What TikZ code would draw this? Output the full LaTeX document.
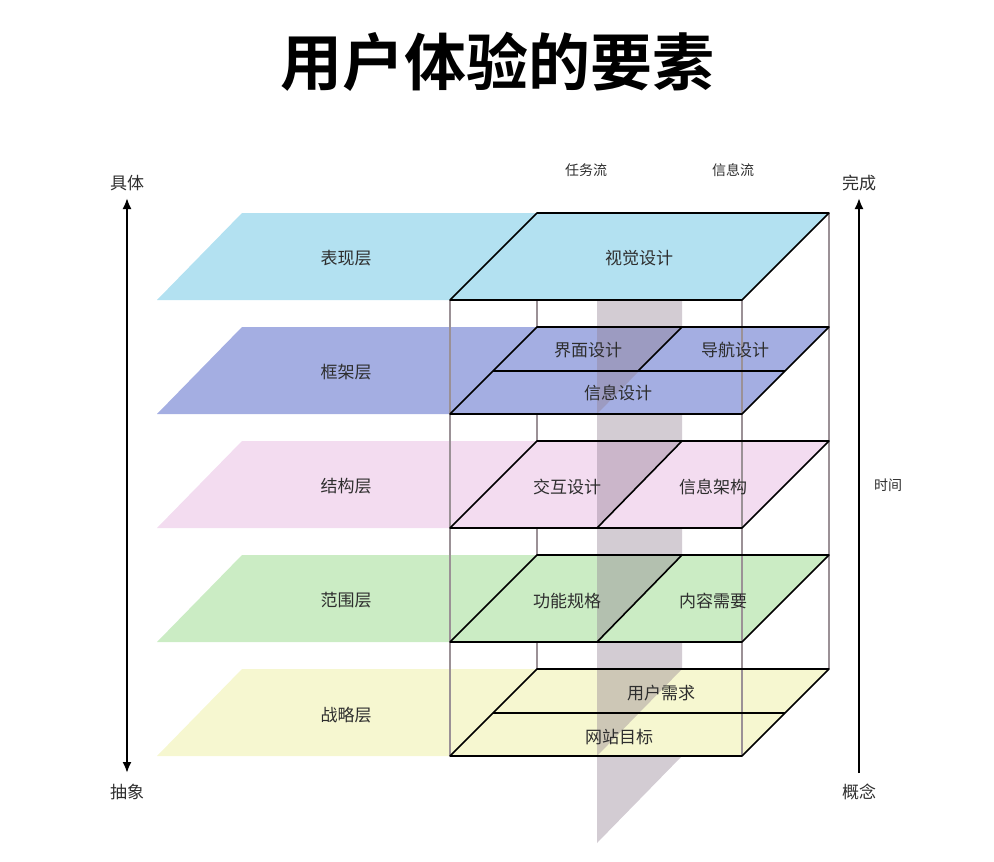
\documentclass[tikz,border=0pt]{standalone}
\usepackage{fontspec}
\setmainfont{Noto Sans CJK SC}[BoldFont={* Bold}]
\usepackage{xcolor}
\usetikzlibrary{arrows.meta}

\definecolor{surfBlue}{RGB}{179,225,241}
\definecolor{skelBlue}{RGB}{164,174,226}
\definecolor{strPink}{RGB}{243,220,240}
\definecolor{scopeGreen}{RGB}{203,236,196}
\definecolor{stratYellow}{RGB}{246,247,208}
\definecolor{frameGray}{RGB}{155,145,150}
\definecolor{planeGray}{RGB}{145,127,145}

\begin{document}
\begin{tikzpicture}[x=1pt, y=-1pt,
  bd/.style={draw=black, line width=1.6pt, line join=round},
  fr/.style={draw=frameGray, line width=1.1pt},
  pl/.style={fill=planeGray, fill opacity=0.4},
  lbl/.style={font=\fontsize{17}{20}\selectfont, text=black!82, inner sep=0pt},
  sm/.style={font=\fontsize{14}{16}\selectfont, text=black!82, inner sep=0pt},
  ax/.style={line width=2pt, black},
  >={Latex[length=11pt, width=9pt]}]
\useasboundingbox (0,0) rectangle (994,862);

% ---- title ----------------------------------------------------------------
\node[font=\fontsize{62}{70}\selectfont\bfseries, inner sep=0pt] (title) at (497,62) {用户体验的要素};

% ---- back edges of the box (hidden by the layers) -------------------------
\draw[fr] (537,213) -- (537,669);
\draw[fr] (829,213) -- (829,669);

% ---- layer fills (band + plate) ---------------------------------------------
\foreach \t/\c in {213/surfBlue, 327/skelBlue, 441/strPink, 555/scopeGreen, 669/stratYellow}
  \fill[\c] (157,\t+87) -- (742,\t+87) -- (829,\t) -- (242,\t) -- cycle;

% ---- the vertical plane between task flow and information flow -------------
\fill[pl] \foreach \a/\b in {300/327, 414/441, 528/555, 642/669, 756/756}
  {(597,\a) -- (682,\a) -- (682,\b) -- (597,\b+87) -- cycle};

% ---- front edges of the box --------------------------------------------------
\draw[fr] (450,300) -- (450,756);
\draw[fr] (742,300) -- (742,756);

% ---- plate outlines and cell dividers ---------------------------------------
\foreach \t in {213, 327, 441, 555, 669}
  \draw[bd] (450,\t+87) -- (742,\t+87) -- (829,\t) -- (537,\t) -- cycle;
\draw[bd] (493,371) -- (785,371);
\draw[bd] (682,327) -- (638,371);
\draw[bd] (682,441) -- (597,528);
\draw[bd] (682,555) -- (597,642);
\draw[bd] (493,713) -- (785,713);

% ---- layer names ----------------------------------------------------------
\node[lbl] (surface)   at (346,258) {表现层};
\node[lbl] (skeleton)  at (346,372) {框架层};
\node[lbl] (structure) at (346,486) {结构层};
\node[lbl] (scope)     at (346,600) {范围层};
\node[lbl] (strategy)  at (346,715) {战略层};

% ---- cells ----------------------------------------------------------------
\node[lbl] (visual)   at (639,258) {视觉设计};
\node[lbl] (iface)    at (588,350) {界面设计};
\node[lbl] (navi)     at (735,350) {导航设计};
\node[lbl] (infod)    at (618,393) {信息设计};
\node[lbl] (interact) at (567,487) {交互设计};
\node[lbl] (infoarch) at (713,487) {信息架构};
\node[lbl] (funcspec) at (567,601) {功能规格};
\node[lbl] (content)  at (713,601) {内容需要};
\node[lbl] (userneed) at (661,693) {用户需求};
\node[lbl] (sitegoal) at (619,737) {网站目标};

\node[sm] (taskflow) at (586,170) {任务流};
\node[sm] (infoflow) at (733,170) {信息流};

% ---- axes -----------------------------------------------------------------
\node[lbl] (concrete) at (127,183) {具体};
\node[lbl] (abstract) at (127,792) {抽象};
\node[lbl] (done)     at (859,183) {完成};
\node[lbl] (concept)  at (859,792) {概念};
\node[sm]  (time)     at (888,485) {时间};
\coordinate (ltop) at (127,198);
\coordinate (lbot) at (127,773);
\coordinate (rtop) at (859,198);
\coordinate (rbot) at (859,773);
\draw[ax, <->] (lbot) -- (ltop);
\draw[ax, ->] (rbot) -- (rtop);

\end{tikzpicture}
\end{document}
